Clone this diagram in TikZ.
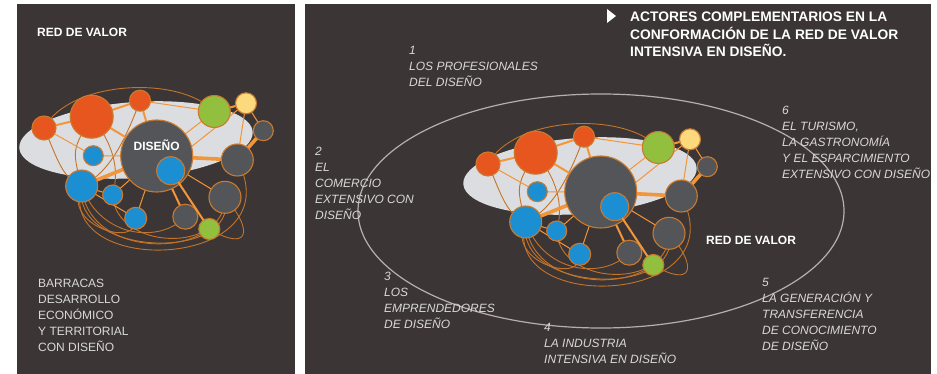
\documentclass[tikz,border=0pt]{standalone}
\usepackage{fontspec}
\setmainfont{Liberation Sans}
\definecolor{bgd}{HTML}{3B3536}
\definecolor{ellc}{HTML}{DCDDE0}
\definecolor{corng}{HTML}{E8561F}
\definecolor{cblue}{HTML}{1B8FD2}
\definecolor{cgreen}{HTML}{93BF3E}
\definecolor{cyell}{HTML}{FCD97C}
\definecolor{cgray}{HTML}{545558}
\definecolor{cbord}{HTML}{C97A30}
\definecolor{eor}{HTML}{F3963A}
\definecolor{ecur}{HTML}{C47428}
\definecolor{labc}{HTML}{DAD8D8}
\definecolor{oell}{HTML}{B5B0AE}
\pgfdeclarelayer{panel}
\pgfdeclarelayer{bg}
\pgfsetlayers{panel,bg,main}
\tikzset{
  cn/.style={circle, draw=cbord, line width=1.1pt, inner sep=0pt, outer sep=0pt},
  ethick/.style={draw=eor, line width=3.6pt},
  emed/.style={draw=eor, line width=2pt},
  ethin/.style={draw=eor, line width=1pt},
  ecurve/.style={draw=ecur, line width=0.9pt},
  hb/.style={font=\fontsize{12}{12}\selectfont\bfseries, text=white, inner sep=0pt, anchor=north west},
  ttl/.style={font=\fontsize{13.8}{17.5}\selectfont\bfseries, text=white, inner sep=0pt, anchor=north west, align=left},
  lab/.style={font=\fontsize{12}{16}\selectfont\itshape, text=labc, inner sep=0pt, anchor=north west, align=left},
  blk/.style={font=\fontsize{12}{16}\selectfont, text=labc, inner sep=0pt, anchor=north west, align=left},
}
\newcommand{\valnet}[3]{%
\begin{scope}[shift={(#2,#3)}]
\begin{pgfonlayer}{panel}
\fill[ellc, rotate around={4:(136,140)}] (136,140) ellipse [x radius=117, y radius=38];
\end{pgfonlayer}
\node[cn, fill=corng, minimum size=24pt] (#1a) at (44,128) {};
\node[cn, fill=corng, minimum size=43pt] (#1b) at (91.7,116.7) {};
\node[cn, fill=corng, minimum size=21pt] (#1c) at (140,100.7) {};
\node[cn, fill=cgray, minimum size=72pt] (#1d) at (156.7,156) {};
\node[cn, fill=cblue, minimum size=28pt] (#1e) at (170.7,170.7) {};
\node[cn, fill=cblue, minimum size=20pt] (#1f) at (93.3,155.7) {};
\node[cn, fill=cblue, minimum size=32pt] (#1g) at (81.7,186) {};
\node[cn, fill=cblue, minimum size=20pt] (#1h) at (112.7,195) {};
\node[cn, fill=cblue, minimum size=22pt] (#1i) at (135.7,218.3) {};
\node[cn, fill=cgreen, minimum size=32pt] (#1j) at (214.3,111.5) {};
\node[cn, fill=cyell, minimum size=21pt] (#1k) at (246,103.3) {};
\node[cn, fill=cgray, minimum size=20pt] (#1l) at (263.3,130.7) {};
\node[cn, fill=cgray, minimum size=32pt] (#1m) at (237.3,160) {};
\node[cn, fill=cgray, minimum size=32pt] (#1n) at (225,197.3) {};
\node[cn, fill=cgray, minimum size=25pt] (#1o) at (185.3,216.7) {};
\node[cn, fill=cgreen, minimum size=21pt] (#1p) at (209.3,229) {};
\begin{pgfonlayer}{bg}
\path[ecurve] (#1a.center) .. controls (70,80) and (180,75) .. (#1j.center);
\path[ecurve] (#1a.center) .. controls (58,160) and (62,178) .. (#1g.center);
\path[ecurve] (#1b.center) .. controls (72,150) .. (#1g.center);
\path[ecurve] (#1b.center) .. controls (118,150) and (118,175) .. (#1h.center);
\path[ecurve] (#1c.center) .. controls (122,150) and (105,175) .. (#1g.center);
\path[ecurve] (#1g.center) .. controls (85,245) and (170,258) .. (#1p.center);
\path[ecurve] (#1g.center) .. controls (70,258) and (240,262) .. (#1n.center);
\path[ecurve] (#1g.center) .. controls (100,238) and (160,244) .. (#1o.center);
\path[ecurve] (#1m.center) .. controls (295,270) and (55,280) .. (#1g.center);
\path[ecurve] (#1h.center) .. controls (115,250) and (225,255) .. (#1n.center);
\path[ecurve] (#1n.center) .. controls (255,232) and (248,252) .. (#1p.center);
\path[ecurve] (#1g.center) .. controls (60,225) and (140,250) .. (#1i.center);
\path[emed] (#1a.center) -- (#1b.center);
\path[emed] (#1b.center) -- (#1c.center);
\path[emed] (#1b.center) -- (#1d.center);
\path[emed] (#1c.center) -- (#1d.center);
\path[ethin] (#1a.center) -- (#1f.center);
\path[ethin] (#1f.center) -- (#1d.center);
\path[ethick] (#1g.center) -- (#1d.center);
\path[ethin] (#1g.center) -- (#1h.center);
\path[ethin] (#1h.center) -- (#1d.center);
\path[ethin] (#1i.center) -- (#1d.center);
\path[ethin] (#1g.center) -- (#1i.center);
\path[ethin] (#1d.center) -- (#1j.center);
\path[ethin] (#1c.center) -- (#1j.center);
\path[emed] (#1j.center) -- (#1k.center);
\path[ethin] (#1k.center) -- (#1d.15);
\path[ethin] (#1k.center) -- (#1m.center);
\path[ethin] (#1k.center) -- (#1l.center);
\path[ethick] (#1l.center) -- (#1m.center);
\path[ethick] (#1d.center) -- (#1m.center);
\path[ethin] (#1d.center) -- (#1n.center);
\path[emed] (#1d.center) -- (#1o.center);
\end{pgfonlayer}
\draw[emed] (#1e) -- (#1p);
\end{scope}}
\begin{document}
\begin{tikzpicture}[x=1pt, y=-1pt]
\useasboundingbox (0,0) rectangle (937,374);
\begin{pgfonlayer}{panel}
\fill[white] (0,0) rectangle (937,374);
\fill[bgd] (17,4) rectangle (295,374);
\fill[bgd] (305,4) rectangle (931,374);
\end{pgfonlayer}
\valnet{L}{0}{0}
\valnet{R}{444}{36}
\begin{pgfonlayer}{bg}
\draw[oell, line width=1.2pt] (601,211) ellipse [x radius=243, y radius=117];
\end{pgfonlayer}
\node[hb] (dlab) at (156.7,145) [anchor=center] {DISEÑO};
\node[hb] (lt) at (37,28) {RED DE VALOR};
\node[blk] (bar) at (38,279) {BARRACAS\\DESARROLLO\\ECONÓMICO\\Y TERRITORIAL\\CON DISEÑO};
\fill[white] (607,9) -- (607,23) -- (616,16) -- cycle;
\node[ttl] (title) at (630,12) {ACTORES COMPLEMENTARIOS EN LA\\CONFORMACIÓN DE LA RED DE VALOR\\INTENSIVA EN DISEÑO.};
\node[hb] (rt) at (706,235.5) {RED DE VALOR};
\node[lab] (g1) at (409,46.4) {1\\LOS PROFESIONALES\\DEL DISEÑO};
\node[lab] (g2) at (315,147.4) {2\\EL\\COMERCIO\\EXTENSIVO CON\\DISEÑO};
\node[lab] (g3) at (384,271.7) {3\\LOS\\EMPRENDEDORES\\DE DISEÑO};
\node[lab] (g4) at (544,323.4) {4\\LA INDUSTRIA\\INTENSIVA EN DISEÑO};
\node[lab] (g5) at (762,278.4) {5\\LA GENERACIÓN Y\\TRANSFERENCIA\\DE CONOCIMIENTO\\DE DISEÑO};
\node[lab] (g6) at (782,106.4) {6\\EL TURISMO,\\LA GASTRONOMÍA\\Y EL ESPARCIMIENTO\\EXTENSIVO CON DISEÑO};
\end{tikzpicture}
\end{document}
